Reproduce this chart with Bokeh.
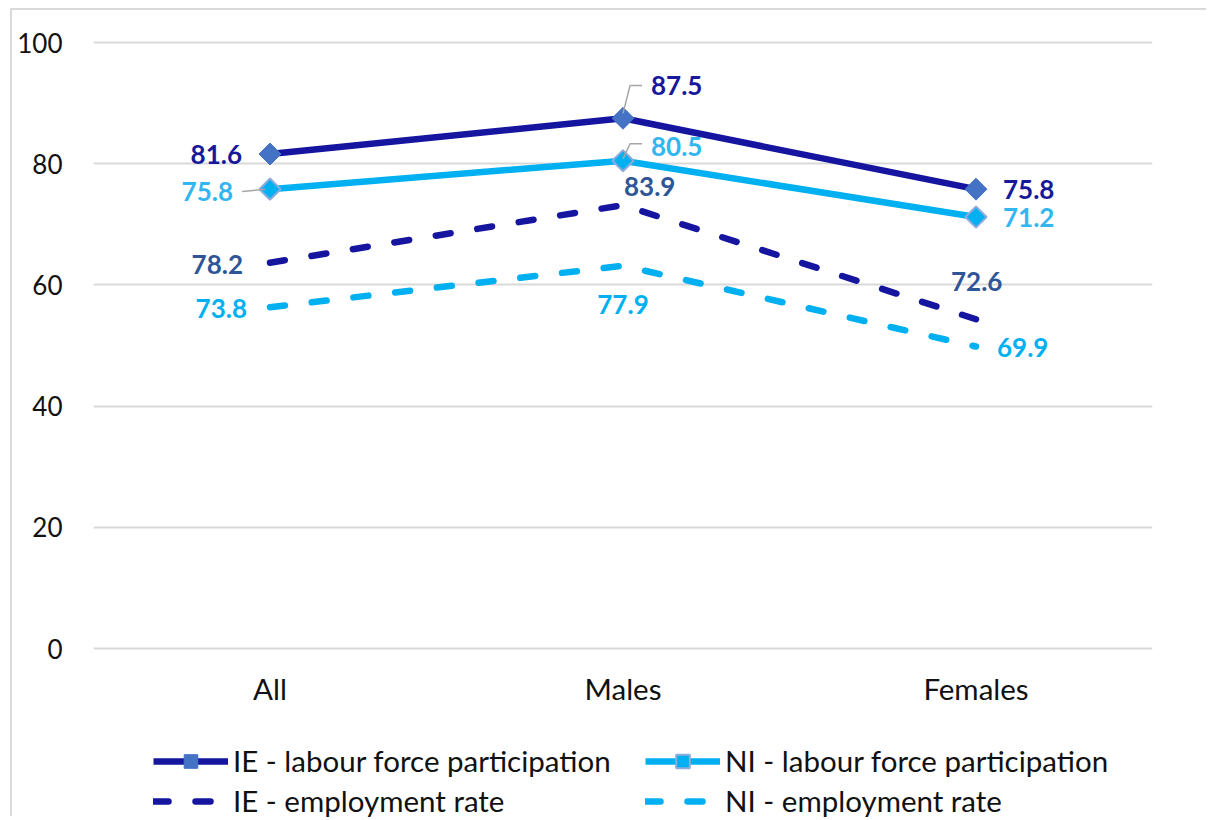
import math
from bokeh.plotting import figure
from bokeh.models import (Range1d, FactorRange, FixedTicker, Legend, LegendItem,
                          ColumnDataSource)
from bokeh.core.properties import value
from bokeh.embed import file_html
from bokeh.resources import INLINE

# ---------------- data ----------------
categories = ["All", "Males", "Females"]
ie_lfp = [81.6, 87.5, 75.8]   # IE - labour force participation (primary axis)
ni_lfp = [75.8, 80.5, 71.2]   # NI - labour force participation (primary axis)
ie_emp = [78.2, 83.9, 72.6]   # IE - employment rate (hidden secondary axis 40-100)
ni_emp = [73.8, 77.9, 69.9]   # NI - employment rate (hidden secondary axis 40-100)
y_ticks = [0, 20, 40, 60, 80, 100]
sec_axis = [40, 100]

series_names = ["IE - labour force participation", "NI - labour force participation",
                "IE - employment rate", "NI - employment rate"]

# ---------------- styles ----------------
FONT = "Lato"
C_IE_LINE = "#1515A0"
C_IE_MARK = "#4472C4"
C_IE_LBL = "#18189A"
C_NI_LINE = "#00B0F0"
C_NI_MARK_EDGE = "#8FAADC"
C_NI_LBL = "#33B6F0"
C_IE_EMP_LBL = "#2F5597"
C_NI_EMP_LBL = "#00B0F0"
GRID = "#D9D9D9"

# label offsets (screen px) per series, per category
off_ie_lfp = dict(x=[-28, 28, 27], y=[0, -33, 0], align=["right", "left", "left"])
off_ni_lfp = dict(x=[-37, 28, 27], y=[2, -14, 0], align=["right", "left", "left"])
off_ie_emp = dict(x=[-27, 1, -25], y=[2, -19, -38], align=["right", "left", "left"])
off_ni_emp = dict(x=[-23, 0, 21], y=[1, 39, 1], align=["right", "center", "left"])

# layout (px)
W, H = 1196, 808
BORDER_L, BORDER_T = 81, 29
PX_PER_UNIT = 6.06
pad = 0.5
y_hi = y_ticks[-1] + pad
y_lo = y_hi - (H - BORDER_T) / PX_PER_UNIT   # frame extends to canvas bottom (legend area)

p = figure(width=W, height=H, x_range=FactorRange(*categories),
           y_range=Range1d(y_lo, y_hi),
           output_backend="svg", toolbar_location=None,
           min_border_left=BORDER_L, min_border_right=56, min_border_top=BORDER_T,
           min_border_bottom=0)
p.styles = {"margin-left": "10px", "margin-top": "8px",
            "border-left": "2px solid #D9D9D9", "border-top": "2px solid #D9D9D9"}
# secondary axis: 40..100 maps onto primary 0..100
k = (sec_axis[1] - sec_axis[0]) / (y_ticks[-1] - y_ticks[0])
p.extra_y_ranges = {"emp": Range1d(sec_axis[0] + k * (y_lo - y_ticks[0]),
                                   sec_axis[0] + k * (y_hi - y_ticks[0]))}
p.outline_line_color = None
p.background_fill_color = "white"
p.border_fill_color = "white"

p.xgrid.grid_line_color = None
p.ygrid.grid_line_color = GRID
p.ygrid.grid_line_width = 2
p.yaxis.ticker = FixedTicker(ticks=y_ticks)
p.xaxis.fixed_location = 0

for ax in (p.xaxis[0], p.yaxis[0]):
    ax.axis_line_color = None
    ax.major_tick_line_color = None
    ax.minor_tick_line_color = None
    ax.major_tick_out = 0
    ax.major_tick_in = 0
    ax.minor_tick_out = 0
    ax.minor_tick_in = 0
    ax.major_label_text_font = FONT
    ax.major_label_text_color = "#111111"
p.yaxis.major_label_text_font_size = "26px"
p.xaxis.major_label_text_font_size = "29.5px"
p.yaxis.major_label_standoff = 31
p.xaxis.major_label_standoff = 22

xc = [i + 0.5 for i in range(len(categories))]

# lines
r_ie_lfp = p.line(xc, ie_lfp, line_color=C_IE_LINE, line_width=6.5)
r_ie_lfp_m = p.scatter(xc, ie_lfp, marker="square", angle=math.pi / 4, size=15.5,
                       fill_color=C_IE_MARK, line_color=C_IE_MARK, line_width=1)
r_ni_lfp = p.line(xc, ni_lfp, line_color=C_NI_LINE, line_width=6.5)
r_ni_lfp_m = p.scatter(xc, ni_lfp, marker="square", angle=math.pi / 4, size=15,
                       fill_color=C_NI_LINE, line_color=C_NI_MARK_EDGE, line_width=2)
r_ie_emp = p.line(xc, ie_emp, line_color=C_IE_LINE, line_width=6.5, line_dash="15 27",
                  line_cap="round", y_range_name="emp")
r_ni_emp = p.line(xc, ni_emp, line_color=C_NI_LINE, line_width=6.5, line_dash="15 27",
                  line_cap="round", y_range_name="emp")

# leader lines (derived from data points)
lead_src = ColumnDataSource(dict(
    xs=[[xc[1], xc[1] + 0.02, xc[1] + 0.054],
        [xc[1], xc[1] + 0.02, xc[1] + 0.054],
        [xc[0] - 0.079, xc[0] - 0.014]],
    ys=[[ie_lfp[1] + 0.8, ie_lfp[1] + 5.4, ie_lfp[1] + 5.4],
        [ni_lfp[1] + 0.3, ni_lfp[1] + 2.8, ni_lfp[1] + 2.8],
        [ni_lfp[0] - 0.4, ni_lfp[0]]],
))
p.multi_line("xs", "ys", source=lead_src, line_color="#A6A6A6", line_width=1.5)

# data labels
def add_labels(vals, off, color, yr="default"):
    src = ColumnDataSource(dict(x=xc, y=vals, t=[f"{v:.1f}" for v in vals],
                                xo=off["x"], yo=off["y"], al=off["align"]))
    p.text("x", "y", text="t", source=src, x_offset="xo", y_offset="yo",
           text_align="al", text_baseline="middle", text_color=color,
           text_font=value(FONT), text_font_style="bold", text_font_size="26px",
           y_range_name=yr)

add_labels(ie_lfp, off_ie_lfp, C_IE_LBL)
add_labels(ni_lfp, off_ni_lfp, C_NI_LBL)
add_labels(ie_emp, off_ie_emp, C_IE_EMP_LBL, "emp")
add_labels(ni_emp, off_ni_emp, C_NI_EMP_LBL, "emp")

legend = Legend(items=[
    LegendItem(label=series_names[0], renderers=[r_ie_lfp, r_ie_lfp_m]),
    LegendItem(label=series_names[1], renderers=[r_ni_lfp, r_ni_lfp_m]),
    LegendItem(label=series_names[2], renderers=[r_ie_emp]),
    LegendItem(label=series_names[3], renderers=[r_ni_emp]),
], orientation="horizontal", ncols=2, location=(60, 0))
legend.label_text_font = FONT
legend.label_text_font_size = "29.5px"
legend.label_text_color = "#111111"
legend.glyph_width = 75
legend.glyph_height = 34
legend.label_height = 34
legend.label_width = 407
legend.label_standoff = 5
legend.spacing = 5
legend.padding = 0
legend.margin = 0
legend.border_line_color = None
legend.background_fill_alpha = 0
p.add_layout(legend)

open("out.html", "w").write(file_html(p, INLINE))
